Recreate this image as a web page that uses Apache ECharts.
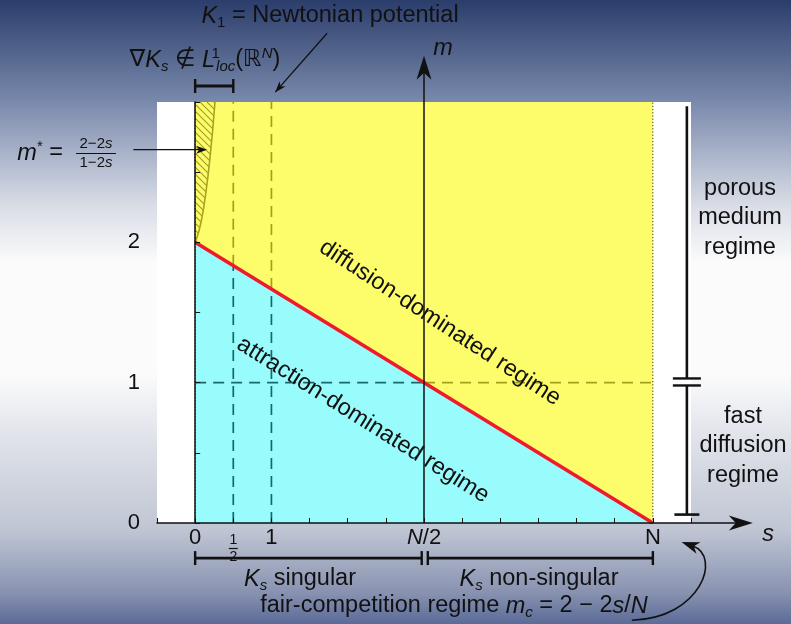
<!DOCTYPE html>
<html>
<head>
<meta charset="utf-8">
<script src="https://cdn.jsdelivr.net/npm/echarts@6/dist/echarts.min.js"></script>
<style>
  html, body { margin: 0; padding: 0; }
  #chart { width: 791px; height: 624px; }
</style>
</head>
<body>
<div id="chart"></div>
<script>
// (s, m) plane, the drawing uses N = 6
var criticalLine = [[0, 2], [6, 0]];                 // m_c = 2 - 2s/N
var diffusionRegion = [[0, 2], [0, 3], [6, 3], [6, 0]];
var attractionRegion = [[0, 0], [0, 2], [6, 0]];
var mStarCurve = [[0, 2], [0.02, 2.03], [0.05, 2.08], [0.08, 2.15], [0.11, 2.24], [0.14, 2.35],
  [0.17, 2.48], [0.2, 2.63], [0.23, 2.8], [0.26, 3]];
var dashedLow = [[[0.5, 0], [0.5, 1.833]], [[1, 0], [1, 1.667]], [[0, 1], [3, 1]]];
var dashedHigh = [[[0.5, 1.833], [0.5, 3]], [[1, 1.667], [1, 3]], [[3, 1], [6, 1]]];
var dottedEdges = [[[0, 0], [0, 3]], [[6, 0], [6, 3]]];
var xTickLabels = { '0': '0', '0.5': '{fr1|1}\n{bar| }\n{fr|2}', '1': '1', '3': '{it|N}/2', '6': 'N' };
var yTickLabels = { '0': '0', '1': '1', '2': '2' };

var FONT = '"Liberation Sans", "DejaVu Sans", Arial, sans-serif';
var INK = '#111';

var chart = echarts.init(document.getElementById('chart'));

// hatch pattern for the m* region
var hatch = document.createElement('canvas');
hatch.width = 7; hatch.height = 7;
var hc = hatch.getContext('2d');
hc.strokeStyle = '#a39c1c';
hc.lineWidth = 1.1;
hc.beginPath();
hc.moveTo(-1, -1); hc.lineTo(8, 8);
hc.moveTo(-1, 6); hc.lineTo(1, 8);
hc.moveTo(6, -1); hc.lineTo(8, 1);
hc.stroke();

function polySeries(pts, fill, z) {
  return {
    type: 'custom', silent: true, z: z, data: [0],
    renderItem: function (params, api) {
      return {
        type: 'polygon',
        shape: { points: pts.map(function (p) { return api.coord(p); }) },
        style: { fill: fill }
      };
    }
  };
}

function segSeries(segs, style, z) {
  return {
    type: 'custom', silent: true, z: z,
    data: segs.map(function (s) { return [s[0][0], s[0][1], s[1][0], s[1][1]]; }),
    encode: { x: [0, 2], y: [1, 3] },
    renderItem: function (params, api) {
      var a = api.coord([api.value(0), api.value(1)]);
      var b = api.coord([api.value(2), api.value(3)]);
      return {
        type: 'line',
        shape: { x1: a[0], y1: a[1], x2: b[0], y2: b[1] },
        style: Object.assign({}, style)
      };
    }
  };
}

function arrowHead(tip, ang, len, half, notch) {
  var c = Math.cos(ang), s = Math.sin(ang);
  var bx = tip[0] - c * len, by = tip[1] - s * len;
  return {
    type: 'polygon',
    shape: { points: [tip, [bx - s * half, by + c * half],
      [tip[0] - c * (len - notch), tip[1] - s * (len - notch)], [bx + s * half, by - c * half]] },
    style: { fill: INK }
  };
}

var decor = {
  type: 'custom', silent: true, z: 20, data: [0],
  renderItem: function (params, api) {
    var P = function (s, m) { return api.coord([s, m]); };
    var kids = [];
    var line = function (a, b, w) {
      kids.push({ type: 'line', shape: { x1: a[0], y1: a[1], x2: b[0], y2: b[1] },
        style: { stroke: INK, lineWidth: w } });
    };
    var vcap = function (p, h, w) { line([p[0], p[1] - h], [p[0], p[1] + h], w); };
    var hcap = function (p, h, w) { line([p[0] - h, p[1]], [p[0] + h, p[1]], w); };

    // s axis beyond the box
    var sTip = P(7.31, 0);
    line(P(6.5, 0), [sTip[0] - 12, sTip[1]], 1.5);
    kids.push(arrowHead(sTip, 0, 24, 7.5, 7));
    // m axis at s = N/2
    var mTip = P(3, 3.33);
    line(P(3, 0), [mTip[0], mTip[1] + 12], 1.5);
    kids.push(arrowHead(mTip, -Math.PI / 2, 24, 7.5, 7));

    // right bracket: porous medium / fast diffusion
    line(P(6.446, 2.97), P(6.446, 1.03), 2.6);
    line(P(6.446, 0.98), P(6.446, 0.06), 2.6);
    hcap(P(6.446, 1.03), 14, 2.4);
    hcap(P(6.446, 0.98), 14, 2.4);
    hcap(P(6.446, 0.06), 12.5, 2.6);

    // bottom bracket: singular / non-singular
    line(P(0, -0.25), P(2.97, -0.25), 2.6);
    line(P(3.05, -0.25), P(6, -0.25), 2.6);
    vcap(P(0, -0.25), 7, 2.4);
    vcap(P(2.97, -0.25), 7, 2.4);
    vcap(P(3.05, -0.25), 7, 2.4);
    vcap(P(6, -0.25), 7, 2.4);

    // top bracket: grad K_s not in L1_loc
    line(P(0, 3.114), P(0.5, 3.114), 3);
    vcap(P(0, 3.114), 7, 2.4);
    vcap(P(0.5, 3.114), 7, 2.4);

    // K1 arrow
    var k0 = P(1.73, 3.49), k1 = P(1.05, 3.07);
    line(k0, k1, 1.3);
    kids.push(arrowHead(k1, Math.atan2(k1[1] - k0[1], k1[0] - k0[0]), 11, 4, 3));
    // m* arrow
    var a0 = P(-0.81, 2.66), a1 = P(0.157, 2.66);
    line(a0, [a1[0] - 5, a1[1]], 1.3);
    kids.push(arrowHead(a1, 0, 11, 4, 3));

    // curved arrow to N
    var b0 = P(5.725, -0.693), b1 = P(6.64, -0.679), b2 = P(6.9, -0.236), b3 = P(6.524, -0.164);
    kids.push({ type: 'bezierCurve',
      shape: { x1: b0[0], y1: b0[1], cpx1: b1[0], cpy1: b1[1], cpx2: b2[0], cpy2: b2[1], x2: b3[0], y2: b3[1] },
      style: { stroke: INK, lineWidth: 1.6, fill: null } });
    var ang = Math.atan2(b3[1] - b2[1], b3[0] - b2[0]);
    kids.push(arrowHead([b3[0] + Math.cos(ang) * 12, b3[1] + Math.sin(ang) * 12], ang, 18, 6, 5));

    return { type: 'group', children: kids };
  }
};

var hatchRegion = mStarCurve.concat([[0, 3]]);

var txt = function (x, y, text, extra) {
  var style = Object.assign({
    text: text, x: 0, y: 0, fill: INK, fontSize: 23.5, fontFamily: FONT,
    textAlign: 'center', textVerticalAlign: 'middle', lineHeight: 28,
    rich: {
      i: { fontStyle: 'italic', fontSize: 23.5, fontFamily: FONT, lineHeight: 28 },
      sb: { fontSize: 15, fontFamily: FONT, lineHeight: 13, verticalAlign: 'bottom' },
      isb: { fontStyle: 'italic', fontSize: 15, fontFamily: FONT, lineHeight: 13, verticalAlign: 'bottom' },
      sp: { fontSize: 15, fontFamily: FONT, lineHeight: 14, verticalAlign: 'top', width: 1 },
      isp: { fontStyle: 'italic', fontSize: 15, fontFamily: FONT, lineHeight: 14, verticalAlign: 'top' },
      ast: { fontSize: 15, fontFamily: FONT, lineHeight: 14, verticalAlign: 'top' },
      fr: { fontSize: 15, fontFamily: FONT, lineHeight: 15 },
      ifr: { fontStyle: 'italic', fontSize: 15, fontFamily: FONT, lineHeight: 15 }
    }
  }, extra || {});
  return { type: 'text', x: x, y: y, z: 30, rotation: style.rot || 0, style: style };
};

var option = {
  animation: false,
  grid: { left: 157, top: 102, width: 534, height: 421, show: true, backgroundColor: '#fff', borderWidth: 0 },
  xAxis: {
    type: 'value', min: -0.5, max: 6.5, interval: 0.5, z: 10,
    axisLine: { show: true, onZero: false, lineStyle: { color: INK, width: 1.5 } },
    axisTick: { show: true, inside: true, length: 5, lineStyle: { color: INK, width: 1 } },
    splitLine: { show: false },
    axisLabel: {
      color: INK, fontSize: 22, fontFamily: FONT, margin: 4,
      formatter: function (v) { return xTickLabels[String(v)] || ''; },
      rich: {
        it: { fontStyle: 'italic', fontSize: 22, fontFamily: FONT },
        fr1: { fontSize: 14, fontFamily: FONT, lineHeight: 20, verticalAlign: 'bottom' },
        fr: { fontSize: 14, fontFamily: FONT, lineHeight: 14 },
        bar: { width: 9, height: 1.2, lineHeight: 3, backgroundColor: INK }
      }
    }
  },
  yAxis: {
    type: 'value', min: 0, max: 3, interval: 0.5, z: 10,
    axisLine: { show: true, lineStyle: { color: INK, width: 1.5 } },
    axisTick: { show: true, inside: true, length: 5, lineStyle: { color: INK, width: 1 } },
    splitLine: { show: false },
    axisLabel: {
      color: INK, fontSize: 22, fontFamily: FONT, margin: 17,
      formatter: function (v) { return yTickLabels[String(v)] || ''; }
    }
  },
  graphic: [
    { type: 'rect', z: -10, shape: { x: 0, y: 0, width: 791, height: 624 },
      style: { fill: new echarts.graphic.LinearGradient(0, 0, 0, 1, [
        { offset: 0, color: '#2b3d6b' },
        { offset: 0.16, color: '#7888ab' },
        { offset: 0.33, color: '#d9dde6' },
        { offset: 0.42, color: '#fbfbfc' },
        { offset: 0.6, color: '#fbfbfc' },
        { offset: 0.7, color: '#e0e3ea' },
        { offset: 0.85, color: '#bfc5d3' },
        { offset: 0.95, color: '#8892b0' },
        { offset: 1, color: '#5b6b98' }
      ]) } },
    txt(330, 16, '{i|K}{sb|1} = Newtonian potential'),
    txt(205, 60, '∇{i|K}{isb|s} ∉ {i|L}{sp|1}{isb|loc}(ℝ{isp|N})'),
    txt(63, 153, '{i|m}{ast|*} =', { textAlign: 'right' }),
    txt(96, 144, '2−2{ifr|s}', { fontSize: 15, lineHeight: 15 }),
    txt(96, 163, '1−2{ifr|s}', { fontSize: 15, lineHeight: 15 }),
    { type: 'line', z: 30, shape: { x1: 76, y1: 153.5, x2: 116, y2: 153.5 }, style: { stroke: INK, lineWidth: 1 } },
    txt(443, 48, '{i|m}'),
    txt(768, 534, '{i|s}'),
    txt(740, 218, 'porous\nmedium\nregime', { lineHeight: 29.5 }),
    txt(743, 446, 'fast\ndiffusion\nregime', { lineHeight: 29.5 }),
    txt(300, 579, '{i|K}{isb|s} singular'),
    txt(539, 579, '{i|K}{isb|s} non-singular'),
    txt(454, 606, 'fair-competition regime {i|m}{isb|c} = 2 − 2{i|s}/{i|N}'),
    txt(440, 323, 'diffusion-dominated regime', { rot: -0.58 }),
    txt(363, 420, 'attraction-dominated regime', { rot: -0.56 })
  ],
  series: [
    polySeries(diffusionRegion, '#fdfd6c', 2),
    polySeries(attractionRegion, '#99fcfc', 2),
    polySeries(hatchRegion, { image: hatch, repeat: 'repeat' }, 3),
    segSeries(dashedLow, { stroke: '#16686a', lineWidth: 1.7, lineDash: [11, 7] }, 4),
    segSeries(dashedHigh, { stroke: '#a69f1e', lineWidth: 1.7, lineDash: [11, 7] }, 4),
    segSeries(dottedEdges, { stroke: '#333', lineWidth: 1, lineDash: [1.2, 2] }, 4),
    {
      type: 'line', data: mStarCurve, showSymbol: false, silent: true, z: 5,
      lineStyle: { color: '#aaa320', width: 1.6 }
    },
    {
      type: 'line', data: criticalLine, showSymbol: false, silent: true, z: 6,
      lineStyle: { color: '#ee1b2d', width: 3.6 }
    },
    decor
  ]
};

chart.setOption(option);
</script>
</body>
</html>
